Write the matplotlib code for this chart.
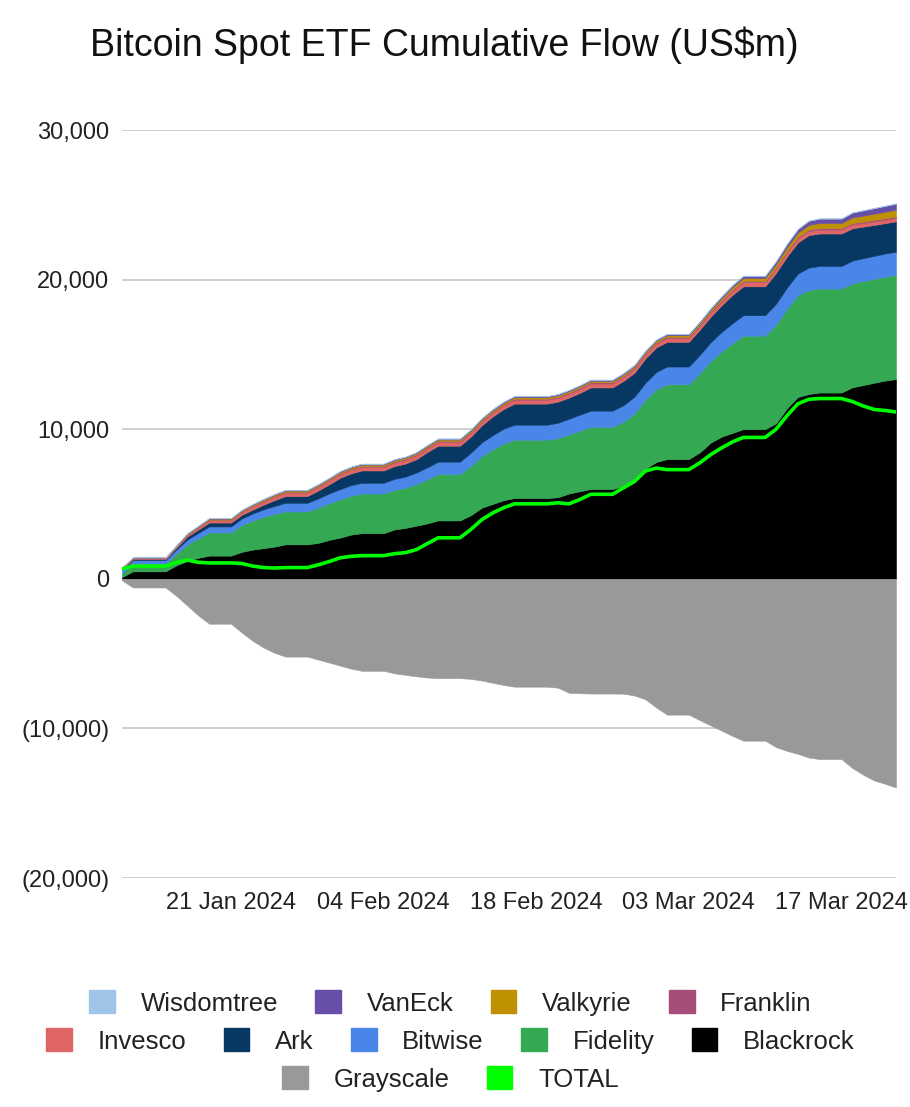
import matplotlib
matplotlib.use("Agg")
import matplotlib.pyplot as plt
import matplotlib.dates as mdates
from matplotlib.patches import Patch
from matplotlib.ticker import FuncFormatter
import pandas as pd

plt.rcParams['font.family'] = ['Liberation Sans', 'DejaVu Sans']

# trading days (weekends / holidays carry the last cumulative value)
trade_dates = [
    "2024-01-11", "2024-01-12", "2024-01-16", "2024-01-17", "2024-01-18", "2024-01-19",
    "2024-01-22", "2024-01-23", "2024-01-24", "2024-01-25", "2024-01-26",
    "2024-01-29", "2024-01-30", "2024-01-31", "2024-02-01", "2024-02-02",
    "2024-02-05", "2024-02-06", "2024-02-07", "2024-02-08", "2024-02-09",
    "2024-02-12", "2024-02-13", "2024-02-14", "2024-02-15", "2024-02-16",
    "2024-02-20", "2024-02-21", "2024-02-22", "2024-02-23",
    "2024-02-26", "2024-02-27", "2024-02-28", "2024-02-29", "2024-03-01",
    "2024-03-04", "2024-03-05", "2024-03-06", "2024-03-07", "2024-03-08",
    "2024-03-11", "2024-03-12", "2024-03-13", "2024-03-14", "2024-03-15",
    "2024-03-18", "2024-03-19", "2024-03-20", "2024-03-21", "2024-03-22",
]

# cumulative flows, US$m
blackrock = [110, 500, 900, 1200, 1400, 1550, 1800, 1950, 2050, 2150, 2300,
             2400, 2600, 2750, 2950, 3050, 3300, 3400, 3550, 3700, 3900,
             4250, 4750, 5000, 5250, 5400, 5450, 5700, 5850, 6000,
             6200, 6700, 7350, 7800, 8000, 8450, 9100, 9500, 9750, 10000,
             10400, 11400, 12150, 12350, 12450, 12800, 12950, 13100, 13250, 13350]
fidelity = [230, 500, 780, 1100, 1300, 1550, 1800, 1950, 2100, 2180, 2200,
            2350, 2450, 2550, 2600, 2650, 2650, 2680, 2780, 2950, 3100,
            3300, 3450, 3650, 3800, 3900, 3950, 3950, 4050, 4150,
            4300, 4350, 4600, 4850, 5000, 5300, 5450, 5700, 6000, 6250,
            6600, 6650, 6800, 6950, 6950, 6950, 6950, 6950, 6950, 6960]
bitwise = [240, 240, 280, 330, 370, 400, 430, 470, 500, 540,
           580, 620, 660, 690, 710, 715, 730, 750, 770, 800,
           830, 880, 920, 950, 980, 1000, 1030, 1050, 1070, 1090,
           1100, 1120, 1150, 1170, 1190, 1220, 1260, 1300, 1340, 1370,
           1400, 1420, 1450, 1500, 1510, 1520, 1530, 1540, 1545, 1550]
ark = [70, 60, 120, 200, 220, 260, 250, 260, 310, 390,
       450, 530, 600, 760, 785, 825, 855, 870, 895, 1020,
       1065, 1070, 1135, 1250, 1315, 1410, 1415, 1410, 1455, 1550,
       1630, 1600, 1615, 1640, 1650, 1680, 1710, 1780, 1890, 1930,
       2050, 2070, 2080, 2170, 2170, 2160, 2110, 2060, 2025, 2040]
invesco = [29, 43, 67, 101, 125, 150, 174, 198, 211, 225,
           228, 232, 235, 239, 240, 242, 244, 245, 247, 248,
           250, 251, 253, 254, 256, 257, 259, 260, 262, 263,
           263, 259, 261, 262, 259, 255, 259, 262, 270, 274,
           287, 285, 283, 281, 265, 258, 246, 244, 233, 220]
franklin = [20, 25, 30, 35, 40, 45, 50, 52, 54, 56,
            58, 60, 62, 64, 65, 66, 67, 68, 69, 70,
            71, 72, 73, 74, 75, 76, 77, 78, 79, 80,
            80, 81, 82, 83, 84, 85, 86, 87, 88, 89,
            90, 91, 92, 93, 94, 95, 96, 97, 98, 100]
valkyrie = [40, 45, 50, 55, 60, 65, 70, 72, 74, 76,
            78, 80, 82, 84, 85, 86, 87, 88, 89, 90,
            91, 92, 93, 94, 95, 96, 97, 98, 99, 100,
            100, 101, 102, 103, 104, 110, 125, 145, 170, 195,
            230, 260, 290, 320, 345, 370, 395, 415, 435, 450]
vaneck = [10, 15, 20, 25, 30, 35, 40, 42, 44, 46,
          48, 50, 52, 54, 55, 56, 57, 58, 59, 60,
          61, 62, 63, 64, 65, 66, 67, 68, 69, 70,
          70, 71, 72, 73, 74, 80, 90, 105, 120, 140,
          170, 200, 230, 260, 290, 320, 345, 365, 385, 400]
wisdomtree = [1, 2, 3, 4, 5, 5, 6, 6, 7, 7,
              8, 8, 9, 9, 10, 10, 10, 11, 11, 12,
              12, 13, 13, 14, 14, 15, 15, 16, 16, 17,
              17, 18, 18, 19, 19, 20, 20, 21, 22, 22,
              23, 24, 25, 26, 26, 27, 28, 29, 29, 30]
grayscale = [-100, -580, -1150, -1800, -2450, -3000, -3600, -4150, -4600, -4950,
             -5200, -5400, -5600, -5800, -6000, -6150, -6320, -6420, -6520, -6600,
             -6640, -6690, -6800, -6950, -7100, -7210, -7280, -7620, -7650, -7670,
             -7680, -7800, -8050, -8600, -9080, -9450, -9800, -10150, -10500, -10820,
             -11250, -11500, -11700, -11950, -12050, -12650, -13100, -13480, -13700, -13950]
total = [650, 850, 1100, 1250, 1100, 1060, 1020, 850, 750, 720,
         750, 930, 1150, 1400, 1500, 1550, 1680, 1750, 1950, 2350,
         2740, 3300, 3950, 4400, 4750, 5010, 5080, 5010, 5300, 5650,
         6080, 6500, 7200, 7400, 7300, 7750, 8300, 8750, 9150, 9450,
         10000, 10900, 11700, 12000, 12050, 11850, 11550, 11320, 11250, 11150]

x_ticks = ["2024-01-21", "2024-02-04", "2024-02-18", "2024-03-03", "2024-03-17"]

# bottom -> top of the positive stack
stack_names = ["Blackrock", "Fidelity", "Bitwise", "Ark", "Invesco",
               "Franklin", "Valkyrie", "VanEck", "Wisdomtree"]
stack_vals = [blackrock, fidelity, bitwise, ark, invesco,
              franklin, valkyrie, vaneck, wisdomtree]
colors = {
    "Wisdomtree": "#9fc5e8", "VanEck": "#674ea7", "Valkyrie": "#bf9000",
    "Franklin": "#a64d79", "Invesco": "#e06666", "Ark": "#073763",
    "Bitwise": "#4a86e8", "Fidelity": "#34a853", "Blackrock": "#000000",
    "Grayscale": "#999999", "TOTAL": "#00ff00",
}

df = pd.DataFrame(dict(zip(stack_names, stack_vals)), index=pd.to_datetime(trade_dates))
df["Grayscale"] = grayscale
df["TOTAL"] = total
daily = df.reindex(pd.date_range("2024-01-11", "2024-03-22", freq="D")).ffill()

fig = plt.figure(figsize=(9.1, 11.07), dpi=100)
ax = fig.add_axes([122 / 910, 1 - 878 / 1107, (896 - 122) / 910, (878 - 130) / 1107])

polys = ax.stackplot(daily.index, *[daily[n] for n in stack_names],
                     colors=[colors[n] for n in stack_names], linewidth=0)
for p, n in zip(polys, stack_names):
    p.set_edgecolor(colors[n])
    p.set_linewidth(0.4)
ax.fill_between(daily.index, daily["Grayscale"], 0, color=colors["Grayscale"],
                edgecolor=colors["Grayscale"], linewidth=0.4)
ax.plot(daily.index, daily["TOTAL"], color=colors["TOTAL"], linewidth=2.6)

ax.set_xlim(daily.index[0], daily.index[-1])
ax.set_ylim(-20000, 30000)
ax.set_yticks(range(-20000, 30001, 10000))
ax.yaxis.set_major_formatter(FuncFormatter(
    lambda v, _: f"({abs(v):,.0f})" if v < 0 else f"{v:,.0f}"))
ax.set_xticks(pd.to_datetime(x_ticks))
ax.xaxis.set_major_formatter(mdates.DateFormatter("%d %b %Y"))
ax.tick_params(axis="both", length=0, labelsize=17, colors="#222222")
ax.tick_params(axis="y", pad=9)
ax.tick_params(axis="x", pad=10)
ax.grid(axis="y", color="#cccccc", linewidth=1.3)
ax.set_axisbelow(True)
for s in ax.spines.values():
    s.set_visible(False)

fig.text(0.488, 1 - 45 / 1107, "Bitcoin Spot ETF Cumulative Flow (US$m)",
         ha="center", va="center", fontsize=27, color="#111111")

legend_rows = [
    ["Wisdomtree", "VanEck", "Valkyrie", "Franklin"],
    ["Invesco", "Ark", "Bitwise", "Fidelity", "Blackrock"],
    ["Grayscale", "TOTAL"],
]
row_y = [1003, 1041, 1079]
for names, y in zip(legend_rows, row_y):
    handles = [Patch(facecolor=colors[n], edgecolor=colors[n]) for n in names]
    leg = fig.legend(handles, names, loc="center", bbox_to_anchor=(0.495, 1 - y / 1107),
                     ncol=len(names), frameon=False, fontsize=18.5,
                     handlelength=1.0, handleheight=1.0, handletextpad=1.0,
                     columnspacing=1.45, borderpad=0, borderaxespad=0)
    for t in leg.get_texts():
        t.set_color("#222222")

fig.savefig("out.png", dpi=100)
